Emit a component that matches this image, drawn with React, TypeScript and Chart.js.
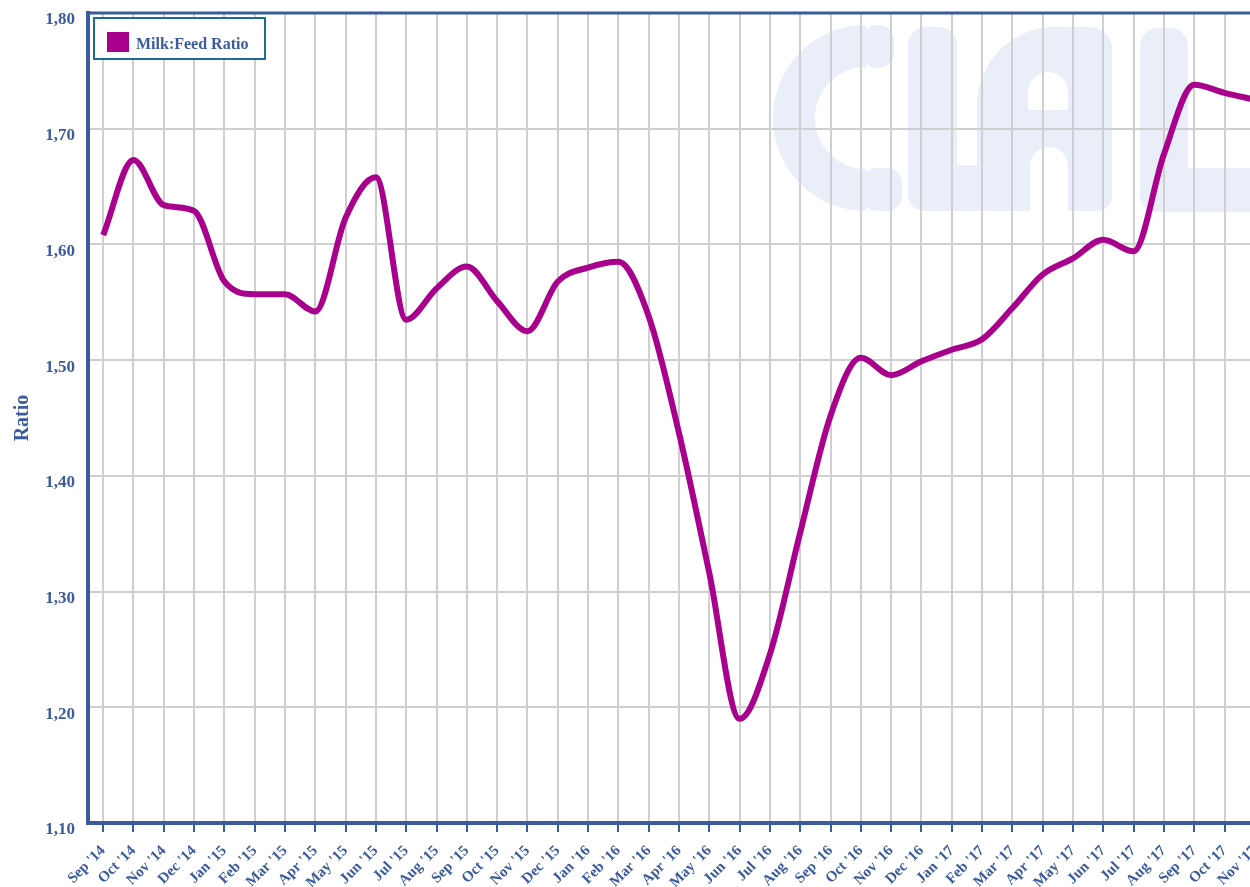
import React, { useEffect, useRef } from 'react';
import { Chart, registerables } from 'chart.js';

Chart.register(...registerables);

const months = [
  "Sep '14", "Oct '14", "Nov '14", "Dec '14", "Jan '15", "Feb '15", "Mar '15", "Apr '15",
  "May '15", "Jun '15", "Jul '15", "Aug '15", "Sep '15", "Oct '15", "Nov '15", "Dec '15",
  "Jan '16", "Feb '16", "Mar '16", "Apr '16", "May '16", "Jun '16", "Jul '16", "Aug '16",
  "Sep '16", "Oct '16", "Nov '16", "Dec '16", "Jan '17", "Feb '17", "Mar '17", "Apr '17",
  "May '17", "Jun '17", "Jul '17", "Aug '17", "Sep '17", "Oct '17", "Nov '17",
];

const milkFeedRatio = [
  1.608, 1.673, 1.634, 1.629, 1.568, 1.557, 1.557, 1.542,
  1.623, 1.658, 1.535, 1.562, 1.581, 1.551, 1.525, 1.568,
  1.580, 1.585, 1.538, 1.437, 1.316, 1.190, 1.246, 1.351,
  1.452, 1.502, 1.487, 1.499, 1.509, 1.518, 1.545, 1.574,
  1.588, 1.604, 1.594, 1.678, 1.738, 1.731, 1.725,
];

const seriesLabel = 'Milk:Feed Ratio';
const yMin = 1.1;
const yMax = 1.8;
const yStep = 0.1;

const BLUE = '#3a5b9e';
const LINE = '#a8008c';
const GRID = '#cfcfcf';
const WATERMARK = '#e9eef8';
const FONT = "'Liberation Serif', 'Times New Roman', serif";

const decorPlugin = {
  id: 'decor',
  beforeDraw(chart: any) {
    const ctx = chart.ctx as CanvasRenderingContext2D;
    ctx.save();
    ctx.fillStyle = WATERMARK;
    // C
    ctx.strokeStyle = WATERMARK;
    ctx.lineWidth = 42;
    ctx.beginPath();
    ctx.arc(866, 118, 72, -Math.PI / 2, Math.PI / 2, true);
    ctx.stroke();
    ctx.beginPath();
    ctx.roundRect(862, 25, 32, 43, 15);
    ctx.roundRect(862, 168, 40, 43, 15);
    ctx.fill();
    // L
    ctx.beginPath();
    ctx.roundRect(908, 27, 49, 184, 18);
    ctx.roundRect(908, 165, 125, 46, 16);
    ctx.fill();
    // A
    ctx.beginPath();
    ctx.roundRect(977, 27, 135, 184, [78, 22, 15, 0]);
    ctx.fill();
    ctx.fillStyle = '#ffffff';
    ctx.beginPath();
    ctx.roundRect(1028, 72, 40, 38, [20, 20, 3, 3]);
    ctx.roundRect(1030, 147, 38, 70, [19, 19, 0, 0]);
    ctx.fill();
    // L
    ctx.fillStyle = WATERMARK;
    ctx.beginPath();
    ctx.roundRect(1140, 28, 48, 184, 18);
    ctx.roundRect(1140, 168, 220, 44, 16);
    ctx.fill();
    ctx.restore();
  },
  afterDraw(chart: any) {
    const ctx = chart.ctx as CanvasRenderingContext2D;
    const a = chart.chartArea;
    ctx.save();
    // top border
    ctx.strokeStyle = BLUE;
    ctx.lineWidth = 3;
    ctx.beginPath();
    ctx.moveTo(a.left - 2, a.top);
    ctx.lineTo(a.right, a.top);
    ctx.stroke();
    // legend
    const lx = a.left + 6;
    const ly = a.top + 5;
    ctx.fillStyle = '#ffffff';
    ctx.fillRect(lx, ly, 171, 41);
    ctx.strokeStyle = '#1d6a96';
    ctx.lineWidth = 2;
    ctx.strokeRect(lx, ly, 171, 41);
    ctx.fillStyle = LINE;
    ctx.fillRect(lx + 13, ly + 14, 22, 20);
    ctx.fillStyle = BLUE;
    ctx.font = `bold 16px ${FONT}`;
    ctx.textBaseline = 'alphabetic';
    ctx.textAlign = 'left';
    ctx.fillText(chart.data.datasets[0].label, lx + 42, ly + 31);
    ctx.restore();
  },
};

export default function App() {
  const ref = useRef<HTMLCanvasElement | null>(null);

  useEffect(() => {
    if (!ref.current) return;
    const chart = new Chart(ref.current, {
      type: 'line',
      data: {
        labels: months,
        datasets: [
          {
            label: seriesLabel,
            data: milkFeedRatio,
            borderColor: LINE,
            backgroundColor: LINE,
            borderWidth: 6,
            pointRadius: 0,
            pointHoverRadius: 0,
            fill: false,
            cubicInterpolationMode: 'monotone',
          },
        ],
      },
      options: {
        animation: false,
        responsive: false,
        devicePixelRatio: 1,
        events: [],
        layout: { padding: { top: 13, left: 0, right: 2, bottom: 0 } },
        plugins: {
          legend: { display: false },
          tooltip: { enabled: false },
        },
        scales: {
          x: {
            type: 'category',
            offset: true,
            grid: {
              color: GRID,
              lineWidth: 2,
              drawTicks: true,
              tickLength: 9,
              tickColor: BLUE,
              tickWidth: 2,
            },
            border: { color: BLUE, width: 4 },
            ticks: {
              autoSkip: false,
              maxRotation: 45,
              minRotation: 45,
              padding: 10,
              color: BLUE,
              font: { family: FONT, size: 15, weight: 'bold' },
            },
            afterFit(scale: any) {
              scale.height = 64;
              scale.paddingLeft = 0;
              scale.paddingRight = 0;
            },
          },
          y: {
            min: yMin,
            max: yMax,
            grid: { color: GRID, lineWidth: 2, drawTicks: false },
            border: { color: BLUE, width: 4 },
            ticks: {
              stepSize: yStep,
              padding: 13,
              labelOffset: 7,
              color: BLUE,
              font: { family: FONT, size: 17, weight: 'bold' },
              callback: (v: any) => Number(v).toFixed(2).replace('.', ','),
            },
            title: {
              display: true,
              text: 'Ratio',
              color: BLUE,
              font: { family: FONT, size: 20, weight: 'bold' },
              padding: { top: 11, bottom: 0 },
            },
            afterFit(scale: any) {
              scale.width = 88;
              scale.paddingTop = 0;
              scale.paddingBottom = 0;
            },
          },
        },
      },
      plugins: [decorPlugin],
    });
    return () => chart.destroy();
  }, []);

  return (
    <div style={{ position: 'absolute', left: 0, top: 0, width: 1250, height: 887, overflow: 'hidden', background: '#fff' }}>
      <canvas ref={ref} width={1272} height={887} style={{ display: 'block' }} />
    </div>
  );
}
